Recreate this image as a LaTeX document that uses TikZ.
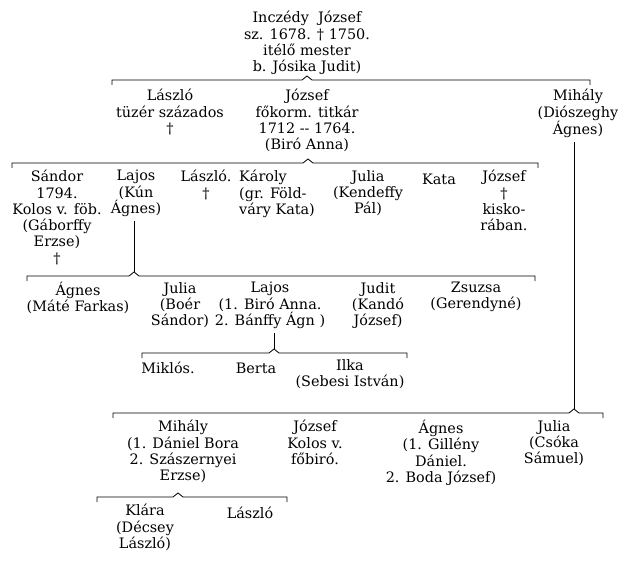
\documentclass[tikz,border=0pt]{standalone}
\usepackage{fontspec}
\setmainfont{DejaVu Serif}
\newcommand\famline[4]{% x1 x2 y peak-x
  \draw[br] (#1,#3+5) -- (#1,#3) -- (#4-5,#3) -- (#4,#3-4) -- (#4+5,#3) -- (#2,#3) -- (#2,#3+5);}
\begin{document}
\begin{tikzpicture}[x=1pt,y=-1pt,
  person/.style={align=center,inner sep=0pt,anchor=north,
    font=\fontsize{14.4}{16.3}\selectfont,
    execute at begin node={\rule{0pt}{14pt}}},
  br/.style={line width=0.8pt,black,line join=miter},
  link/.style={line width=0.8pt,black}]
\fill[white] (0,0) rectangle (618,561);
\useasboundingbox (0,0) rectangle (618,561);

% node y = first baseline - 14
% generation 1
\node[person] (root) at (307,11) {Inczédy\ \ József\\sz. 1678. † 1750.\\itélő mester\\b. Jósika Judit)};
% generation 2
\node[person] (laszlo1) at (170,89) {László\\tüzér százados\\†};
\node[person] (jozsef1) at (307,89) {József\\főkorm. titkár\\1712 -{}- 1764.\\(Biró Anna)};
\node[person] (mihaly1) at (578,89) {Mihály\\(Diószeghy\\Ágnes)};
% generation 3
\node[person] (sandor) at (57,170) {Sándor\\1794.\\Kolos v. föb.\\(Gáborffy\\Erzse)\\†};
\node[person] (lajos1) at (136,170) {Lajos\\(Kún\\Ágnes)};
\node[person] (laszlo2) at (206,170) {László.\\†};
\node[person,align=left,anchor=north west] (karoly) at (239,170) {Károly\\(gr. Föld-\\váry Kata)};
\node[person] (julia1) at (368,170) {Julia\\(Kendeffy\\Pál)};
\node[person] (kata) at (439,170) {Kata};
\node[person] (jozsef2) at (504,170) {József\\†\\kisko-\\rában.};
% generation 4 (children of Lajos)
\node[person] (agnes1) at (78,282) {Ágnes\\(Máté Farkas)};
\node[person] (julia2) at (180,282) {Julia\\(Boér\\Sándor)};
\node[person] (lajos2) at (270,282) {Lajos\\(1. Biró Anna.\\2. Bánffy Ágn )};
\node[person] (judit) at (378,282) {Judit\\(Kandó\\József)};
\node[person] (zsuzsa) at (476,282) {Zsuzsa\\(Gerendyné)};
% generation 5 (children of Lajos)
\node[person] (miklos) at (168,359) {Miklós.};
\node[person] (berta) at (256,359) {Berta};
\node[person] (ilka) at (350,359) {Ilka\\(Sebesi István)};
% children of Mihály
\node[person] (mihaly2) at (183,420) {Mihály\\(1. Dániel Bora\\2. Szászernyei\\Erzse)};
\node[person] (jozsef3) at (315,420) {József\\Kolos v.\\főbiró.};
\node[person] (agnes2) at (441,420) {Ágnes\\(1. Gillény\\Dániel.\\2. Boda József)};
\node[person] (julia3) at (554,420) {Julia\\(Csóka\\Sámuel)};
% children of Mihály (2)
\node[person] (klara) at (145,504) {Klára\\(Décsey\\László)};
\node[person] (laszlo3) at (250,504) {László};

% sibling brackets with their peaks
\coordinate (pk1) at (307,76);
\coordinate (pk2) at (308,159);
\coordinate (pk3) at (134,272);
\coordinate (pk4) at (274,349);
\coordinate (pk5) at (574,409);
\coordinate (pk6) at (178,493);
\famline{112}{590}{80}{307}
\famline{12}{538}{163}{308}
\famline{27}{535}{276}{134}
\famline{142}{407}{353}{274}
\famline{113}{603}{413}{574}
\famline{97}{287}{497}{178}

% descent lines
\draw[link] (lajos1.south -| pk3) ++(0,4) -- (pk3);
\draw[link] (lajos2.south -| pk4) ++(0,4) -- (pk4);
\draw[link] (mihaly1.south -| pk5) ++(0,4) -- (pk5);
\end{tikzpicture}
\end{document}
